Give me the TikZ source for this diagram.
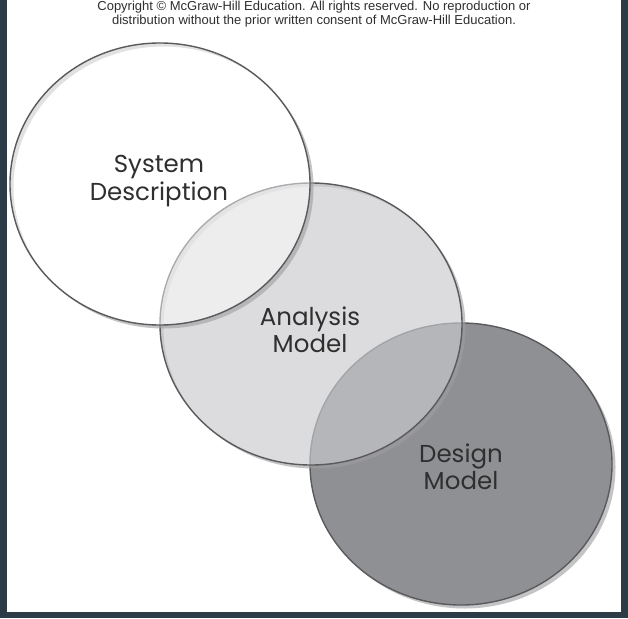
\documentclass[tikz,border=0pt]{standalone}
\usepackage{fontspec}
\setmainfont{Poppins}
\newfontfamily\copyfont{Liberation Sans}
\definecolor{slate}{HTML}{2C3B46}
\definecolor{txt}{HTML}{2F2F2F}
\definecolor{rim}{HTML}{5A5A5C}
\definecolor{shade}{HTML}{9E9EA0}
\begin{document}
\begin{tikzpicture}[x=1pt,y=-1pt,
  shadowring/.style={fill=shade,fill opacity=0.6,even odd rule},
  bubble/.style={draw=rim,line width=1.4pt},
  lbl/.style={font=\fontsize{24.5}{27.5}\selectfont,text=txt,align=center,inner sep=0pt}]
\useasboundingbox (0,0) rectangle (628,618);
\fill[slate] (0,0) rectangle (628,618);
\fill[white] (7,0) rectangle (621,612);
% design model (bottom layer)
\fill[shadowring] (464.5,467.5) ellipse [x radius=151,y radius=141] (461,464) ellipse [x radius=151,y radius=141];
\path[bubble,fill={rgb,255:red,143;green,144;blue,147}] (461,464) ellipse [x radius=151,y radius=141];
% analysis model
\fill[shadowring] (314.5,327.5) ellipse [x radius=151,y radius=141] (311,324) ellipse [x radius=151,y radius=141];
\path[bubble,fill={rgb,255:red,202;green,203;blue,206},fill opacity=0.66] (311,324) ellipse [x radius=151,y radius=141];
% system description (top layer)
\fill[shadowring] (163.5,187.5) ellipse [x radius=150,y radius=141] (160,184) ellipse [x radius=150,y radius=141];
\path[bubble,fill=white,fill opacity=0.5] (160,184) ellipse [x radius=150,y radius=141];
% labels
\node[lbl] (sd) at (159,181) {System\\Description};
\node[lbl] (am) at (310,330) {Analysis\\Model};
\node[lbl] (dm) at (461,467) {Design\\Model};
\node[font=\copyfont\fontsize{13}{14.5}\selectfont,text=txt,align=center,inner sep=0pt] (cp) at (314,14)
  {Copyright \textcopyright{} McGraw-Hill Education. All rights reserved. No reproduction or\\distribution without the prior written consent of McGraw-Hill Education.};
\end{tikzpicture}
\end{document}
